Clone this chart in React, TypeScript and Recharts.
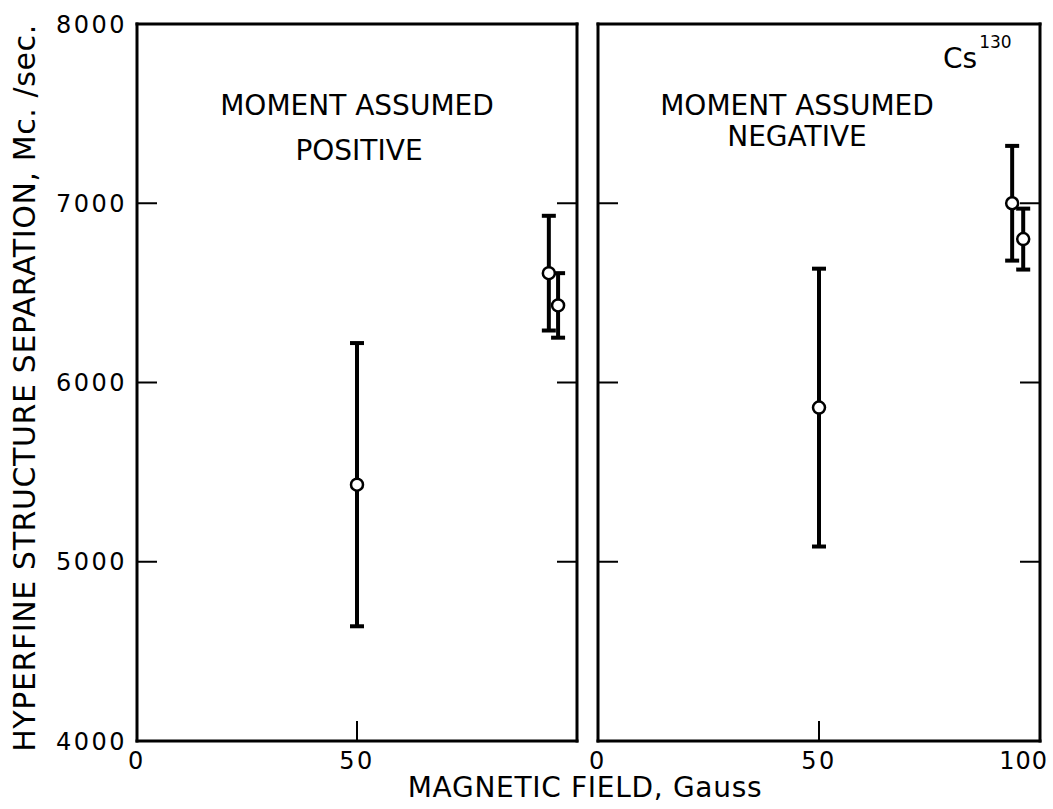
import { ScatterChart, Scatter, XAxis, YAxis, ErrorBar } from "recharts";

// Cs130 hyperfine separation vs. magnetic field, two sign assumptions
const fieldPos = [50, 93.6, 95.7];
const hfsPos = [5430, 6610, 6430];
const errPos = [790, 320, 180];

const fieldNeg = [50, 93.7, 96.2];
const hfsNeg = [5860, 7000, 6800];
const errNeg = [775, 320, 170];

const xTicks = [0, 50, 100];
const yTicks = [4000, 5000, 6000, 7000, 8000];

const FONT = "'DejaVu Sans', sans-serif";
const INK = "#000";

const toRows = (x: number[], y: number[], e: number[]) =>
  x.map((v, i) => ({ field: v, hfs: y[i], err: e[i] }));

const axisLine = { stroke: INK, strokeWidth: 3, strokeLinecap: "square" as const };
const tickLine = { stroke: INK, strokeWidth: 2 };
const tickFont = { fontSize: 24, fill: INK, fontFamily: FONT, letterSpacing: 2.5 };
const blank = () => "";

const OpenCircle = (p: any) => (
  <circle cx={p.cx} cy={p.cy} r={6} fill="#fff" stroke={INK} strokeWidth={2.5} />
);

// bottom labels; the last one is right-aligned so it stays inside the frame
const fieldTick = (showLast: boolean) => (p: any) => {
  const v = p.payload.value;
  const last = v === 100;
  if (last && !showLast) return <g />;
  return (
    <text
      x={p.x + (last ? 8 : 0)}
      y={p.y}
      dy="0.71em"
      textAnchor={last ? "end" : "middle"}
      fontSize={24}
      fontFamily={FONT}
      letterSpacing={last ? 1 : 2.5}
      fill={INK}
    >
      {v}
    </text>
  );
};

function Panel({
  rows,
  left,
  width,
  margin,
  yLabels,
  showLast,
}: {
  rows: { field: number; hfs: number; err: number }[];
  left: number;
  width: number;
  margin: { top: number; right: number; bottom: number; left: number };
  yLabels: boolean;
  showLast: boolean;
}) {
  return (
    <div style={{ position: "absolute", left, top: 0 }}>
      <ScatterChart width={width} height={809} margin={margin}>
        <XAxis
          xAxisId="b"
          dataKey="field"
          type="number"
          domain={[0, 100]}
          allowDataOverflow
          ticks={xTicks}
          height={40}
          axisLine={axisLine}
          tickLine={tickLine}
          tickSize={-20}
          tickMargin={31}
          tick={fieldTick(showLast)}
          interval={0}
        />
        <XAxis
          xAxisId="t"
          orientation="top"
          type="number"
          domain={[0, 100]}
          allowDataOverflow
          ticks={xTicks}
          height={3}
          axisLine={axisLine}
          tickLine={tickLine}
          tickSize={-20}
          tick={tickFont}
          tickFormatter={blank}
          interval={0}
        />
        <YAxis
          yAxisId="l"
          dataKey="hfs"
          type="number"
          domain={[4000, 8000]}
          allowDataOverflow
          ticks={yTicks}
          width={yLabels ? 70 : 3}
          axisLine={axisLine}
          tickLine={tickLine}
          tickSize={-20}
          tickMargin={30}
          tick={tickFont}
          tickFormatter={yLabels ? (v: number) => String(v) : blank}
          interval={0}
        />
        <YAxis
          yAxisId="r"
          orientation="right"
          type="number"
          domain={[4000, 8000]}
          allowDataOverflow
          ticks={yTicks}
          width={3}
          axisLine={axisLine}
          tickLine={tickLine}
          tickSize={-20}
          tick={tickFont}
          tickFormatter={blank}
          interval={0}
        />
        <Scatter
          data={rows}
          xAxisId="b"
          yAxisId="l"
          shape={OpenCircle}
          isAnimationActive={false}
        >
          <ErrorBar
            dataKey="err"
            direction="y"
            width={7}
            strokeWidth={4}
            stroke={INK}
            isAnimationActive={false}
          />
        </Scatter>
      </ScatterChart>
    </div>
  );
}

export default function App() {
  return (
    <div
      style={{
        position: "absolute",
        left: 0,
        top: 0,
        width: 1053,
        height: 809,
        background: "#fff",
        fontFamily: FONT,
      }}
    >
      <Panel
        rows={toRows(fieldPos, hfsPos, errPos)}
        left={0}
        width={600}
        margin={{ top: 21, right: 20, bottom: 28, left: 67 }}
        yLabels
        showLast={false}
      />
      <Panel
        rows={toRows(fieldNeg, hfsNeg, errNeg)}
        left={560}
        width={493}
        margin={{ top: 21, right: 10, bottom: 28, left: 35 }}
        yLabels={false}
        showLast
      />
      <svg
        width={1053}
        height={809}
        style={{ position: "absolute", left: 0, top: 0, pointerEvents: "none" }}
        fontFamily={FONT}
        fill={INK}
      >
        <text x={357} y={115} fontSize={28} textAnchor="middle">
          MOMENT ASSUMED
        </text>
        <text x={359} y={160} fontSize={28} textAnchor="middle">
          POSITIVE
        </text>
        <text x={797} y={115} fontSize={28} textAnchor="middle">
          MOMENT ASSUMED
        </text>
        <text x={797} y={146} fontSize={28} textAnchor="middle">
          NEGATIVE
        </text>
        <text x={943} y={68} fontSize={28}>
          Cs
          <tspan fontSize={17} dy={-20} dx={2}>
            130
          </tspan>
        </text>
        <text
          transform="translate(35,388) rotate(-90)"
          fontSize={30}
          textAnchor="middle"
          letterSpacing={0.6}
        >
          HYPERFINE STRUCTURE SEPARATION, Mc. /sec.
        </text>
        <text x={585} y={797} fontSize={28} textAnchor="middle" letterSpacing={0.7}>
          MAGNETIC FIELD, Gauss
        </text>
      </svg>
    </div>
  );
}
